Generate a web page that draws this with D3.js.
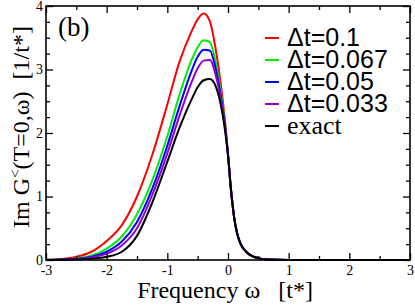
<!DOCTYPE html>
<meta charset="utf-8">
<style>
body { margin: 0; background: #fff; }
.curve { fill: none; stroke-width: 2px; }
.axis text { font-family: "Liberation Serif", serif; font-size: 14px; fill: #000; }
.axis line { stroke: #000; stroke-width: 1.3px; }
.axis path { display: none; }
</style>
<body>
<script src="https://d3js.org/d3.v7.min.js"></script>
<script>

// frequency grid (omega) and Im G< values
var omega = [-3, -2.75, -2.5, -2.25, -2, -1.75, -1.5, -1.25, -1, -0.8, -0.6, -0.5, -0.4, -0.3, -0.2, -0.1, -0.05, 0,
             0.05, 0.1, 0.15, 0.2, 0.3, 0.4, 0.5, 0.6, 0.8, 1, 1.5, 2, 2.5, 3];
var tail = [1.1, 0.68, 0.42, 0.27, 0.13, 0.06, 0.03, 0.012, 0.003, 0.001, 0, 0, 0, 0];

var dt01   = [0.004, 0.015, 0.05, 0.13, 0.3, 0.55, 1.0, 1.65, 2.45, 3.12, 3.6, 3.79, 3.88, 3.76, 3.3, 2.62, 2.2, 1.68].concat(tail);
var dt0067 = [0.002, 0.008, 0.025, 0.07, 0.18, 0.37, 0.72, 1.25, 1.95, 2.6, 3.15, 3.35, 3.46, 3.43, 3.1, 2.52, 2.15, 1.66].concat(tail);
var dt005  = [0.001, 0.006, 0.018, 0.05, 0.13, 0.29, 0.6, 1.12, 1.8, 2.42, 2.98, 3.2, 3.31, 3.3, 3.0, 2.47, 2.12, 1.66].concat(tail);
var dt0033 = [0.001, 0.004, 0.014, 0.04, 0.1, 0.23, 0.5, 1.02, 1.68, 2.27, 2.8, 3.02, 3.14, 3.15, 2.9, 2.42, 2.1, 1.65].concat(tail);
var exact  = [0, 0.003, 0.006, 0.02, 0.05, 0.13, 0.38, 0.9, 1.55, 2.08, 2.53, 2.72, 2.83, 2.85, 2.73, 2.35, 2.05, 1.65].concat(tail);

var labels = ["\u0394t=0.1", "\u0394t=0.067", "\u0394t=0.05", "\u0394t=0.033", "exact"];
var colors = ["#ff0000", "#00ee00", "#0000ff", "#9400d3", "#000000"];
var series = [dt01, dt0067, dt005, dt0033, exact];

var xTicks = [-3, -2, -1, 0, 1, 2, 3];
var xMinor = [-2.5, -1.5, -0.5, 0.5, 1.5, 2.5];
var yTicks = [0, 1, 2, 3, 4];
var yMinor = [0.25, 0.5, 0.75, 1.25, 1.5, 1.75, 2.25, 2.5, 2.75, 3.25, 3.5, 3.75];

var margin = {top: 6, right: 5, bottom: 45, left: 46},
    width = 415 - margin.left - margin.right,
    height = 305 - margin.top - margin.bottom;

var x = d3.scaleLinear().domain([-3, 3]).range([0, width]);
var y = d3.scaleLinear().domain([0, 4]).range([height, 0]);

var svg = d3.select("body").append("svg")
    .attr("width", 415)
    .attr("height", 305)
  .append("g")
    .attr("transform", "translate(" + margin.left + "," + margin.top + ")");

// curves
var line = d3.line()
    .x(function(d, i) { return x(omega[i]); })
    .y(function(d) { return y(d); })
    .curve(d3.curveMonotoneX);

series.forEach(function(s, k) {
  svg.append("path")
      .datum(s)
      .attr("class", "curve")
      .style("stroke", colors[k])
      .attr("d", line);
});

// plain hyphen minus like the original
var fmt = function(d) { return String(d); };

// axes, ticks pointing inward on all four sides
svg.append("g").attr("class", "axis")
    .attr("transform", "translate(0," + height + ")")
    .call(d3.axisBottom(x).tickValues(xTicks).tickSize(-7).tickPadding(5).tickFormat(fmt));
svg.append("g").attr("class", "axis")
    .attr("transform", "translate(0," + height + ")")
    .call(d3.axisBottom(x).tickValues(xMinor).tickSize(-4).tickFormat(""));
svg.append("g").attr("class", "axis")
    .call(d3.axisTop(x).tickValues(xTicks).tickSize(-7).tickFormat(""));
svg.append("g").attr("class", "axis")
    .call(d3.axisTop(x).tickValues(xMinor).tickSize(-4).tickFormat(""));

svg.append("g").attr("class", "axis")
    .call(d3.axisLeft(y).tickValues(yTicks).tickSize(-7).tickPadding(3).tickFormat(fmt));
svg.append("g").attr("class", "axis")
    .call(d3.axisLeft(y).tickValues(yMinor).tickSize(-4).tickFormat(""));
svg.append("g").attr("class", "axis")
    .attr("transform", "translate(" + width + ",0)")
    .call(d3.axisRight(y).tickValues(yTicks).tickSize(-7).tickFormat(""));
svg.append("g").attr("class", "axis")
    .attr("transform", "translate(" + width + ",0)")
    .call(d3.axisRight(y).tickValues(yMinor).tickSize(-4).tickFormat(""));

// frame
svg.append("rect")
    .attr("width", width)
    .attr("height", height)
    .style("fill", "none")
    .style("stroke", "#000")
    .style("stroke-width", "1.6px");

// panel tag
svg.append("text")
    .attr("x", 12)
    .attr("y", 30)
    .style("font-family", "Liberation Serif")
    .style("font-size", "27px")
    .text("(b)");

// legend
var legend = svg.append("g").attr("transform", "translate(219,40)");
labels.forEach(function(l, k) {
  legend.append("line")
      .attr("x1", 0).attr("x2", 14)
      .attr("y1", k * 22 - 8).attr("y2", k * 22 - 8)
      .style("stroke", colors[k])
      .style("stroke-width", "2px");
  legend.append("text")
      .attr("x", 22)
      .attr("y", k * 22)
      .style("font-family", k == 4 ? "Liberation Serif" : "Liberation Sans")
      .style("font-size", k == 4 ? "26px" : "25px")
      .text(l);
});

// axis titles
svg.append("text")
    .attr("x", width / 2 - 3)
    .attr("y", height + 38)
    .attr("text-anchor", "middle")
    .style("font-family", "Liberation Serif")
    .style("font-size", "24px")
    .style("white-space", "pre")
    .text("Frequency \u03c9   [t*]");

var yt = svg.append("text")
    .attr("transform", "translate(-17," + (height / 2 - 6) + ") rotate(-90)")
    .attr("text-anchor", "middle")
    .style("font-family", "Liberation Serif")
    .style("font-size", "24px")
    .style("white-space", "pre");
yt.append("tspan").text("Im G");
yt.append("tspan").attr("dy", -9).style("font-size", "15px").text("<");
yt.append("tspan").attr("dy", 9).text("(T=0,\u03c9)  [1/t*]");

</script>
</body>
